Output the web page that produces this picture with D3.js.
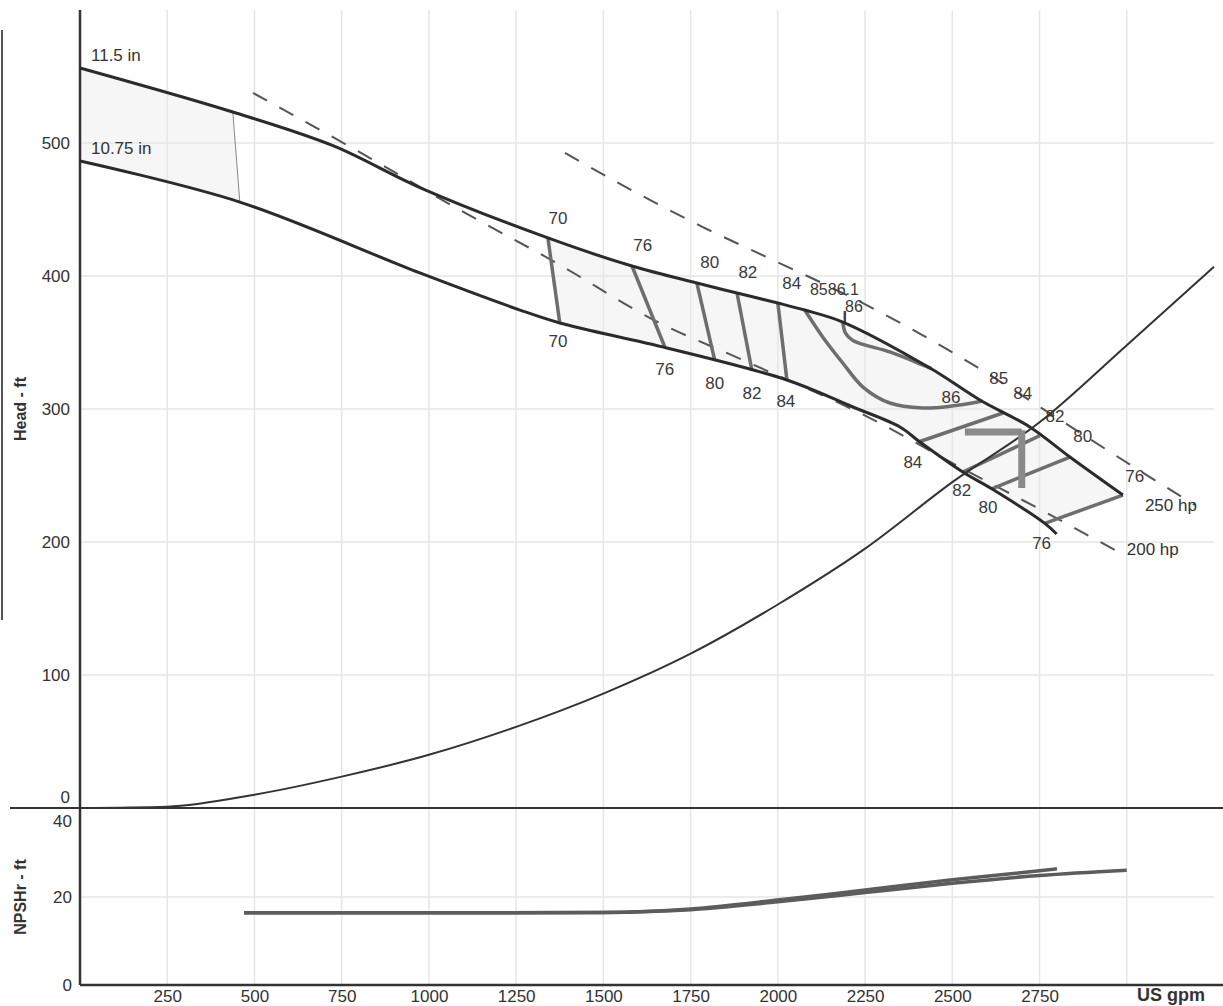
<!DOCTYPE html>
<html>
<head>
<meta charset="utf-8">
<script src="https://cdn.jsdelivr.net/npm/d3@7"></script>
<style>
body { margin: 0; background: #fff; }
text { font-family: "Liberation Sans", Arial, sans-serif; fill: #333; }
</style>
</head>
<body>
<script>
// impeller curves, flow in US gpm, head in ft
const flow115 = [0,438,725,974,1341,1582,1768,1883,2000,2077,2186,2436,2579,2722,2837,2989]
const head115 = [556.4,523.3,498,466.5,428.6,407.5,394.7,387.2,379.7,374.4,365.4,330.8,306.8,286.5,263.9,235.3]
const flow1075 = [0,458,974,1261,1375,1682,2026,2215,2350,2407,2530,2613,2765,2799]
const head1075 = [486.5,455.6,402.3,374.4,364.7,345.9,321.8,301.5,286.5,275.2,252.6,240,214,206]

// system curve
const sysFlow = [0,250,500,750,1000,1250,1500,1750,2000,2250,2500,2750,3000,3250]
const sysHead = [0,1,10,23.6,40,61,86,116,153,195,245,290,348,407]

// power lines (dashed)
const hp200 = [[496,537.6],[831,488.7],[1089,449.6],[1361,410.5],[1656,365.4],[1900,336.8],[2264,293.2],[2521,256.4],[2771,221.8],[2971,193.2]]
const hp250 = [[1390,492.5],[1585,463.9],[1785,436.8],[1986,412],[2186,387.2],[2378,360.9],[2570,331.6],[2765,299.2],[2966,265.4],[3195,227.8]]

// iso-efficiency lines
const effStraight = [
  [[1341,428.6],[1375,364.7]],
  [[1582,407.5],[1676,346.6]],
  [[1768,394.7],[1819,336.8]],
  [[1883,387.2],[1926,328.6]],
  [[2000,379.7],[2026,321.8]],
  [[2401,275],[2645,297]],
  [[2530,252.6],[2751,280]],
  [[2613,240],[2837,263.9]],
  [[2765,214],[2989,235.3]]
]
const eff85 = [[2077,374.4],[2129,354],[2186,334.6],[2244,316.5],[2321,304.5],[2415,300.8],[2493,302],[2587,306]]
const eff86 = [[2186,365.4],[2194,357],[2215,351.5],[2321,342.9],[2415,333.1],[2440,330.3]]
const minFlow = [[438,523.3],[458,455.6]]
const bepTick = [[2192,373.7],[2192,363.9]]
const dutyH = [[2536,282.7],[2699,282.7]]
const dutyV = [[2699,284],[2699,240.6]]

// label text, flow, head, anchor
const effLabels = [
  ['70',1370,443.6,'middle'],['76',1613,422.6,'middle'],['80',1805,409.8,'middle'],['82',1914,402.3,'middle'],['84',2040,394.7,'middle'],
  ['85',2143,389.5,'end'],['86.1',2143,389.5,'start'],['86',2218,377,'middle'],
  ['70',1370,350.4,'middle'],['76',1676,330,'middle'],['80',1819,319.5,'middle'],['82',1926,312,'middle'],['84',2023,306,'middle'],
  ['86',2496,308.3,'middle'],['85',2633,322.6,'middle'],['84',2702,311.3,'middle'],['82',2794,294.7,'middle'],['80',2874,279,'middle'],['76',3023,248.9,'middle'],
  ['84',2387,259.4,'middle'],['82',2527,239,'middle'],['80',2602,225.6,'middle'],['76',2756,199.2,'middle']
]
const curveLabels = [['11.5 in',31.5,566],['10.75 in',31.5,495.5],['250 hp',3052,227.8],['200 hp',3000,194]]

// NPSHr
const npshFlowA = [470,1000,1500,1750,2000,2250,2500,2800]
const npshA = [16.4,16.4,16.5,17.3,19.3,21.6,23.9,26.4]
const npshFlowB = [470,1000,1500,1750,2000,2250,2500,2750,3000]
const npshB = [16.4,16.4,16.5,17.1,18.9,21.0,23.1,24.9,26.1]

const xGrid = [250,500,750,1000,1250,1500,1750,2000,2250,2500,2750,3000]
const xLabels = [250,500,750,1000,1250,1500,1750,2000,2250,2500,2750]
const headTicks = [0,100,200,300,400,500]
const npshTicks = [0,20,40]

const W = 1223, H = 1006
const x = d3.scaleLinear().domain([0,3250]).range([80,1214])
const y = d3.scaleLinear().domain([0,600]).range([808,10])
const yn = d3.scaleLinear().domain([0,40]).range([985,809])

const svg = d3.select('body').append('svg')
  .attr('width', W).attr('height', H)

const zip = (a,b) => a.map((q,i)=>[q,b[i]])
const up = zip(flow115, head115)
const lo = zip(flow1075, head1075)

const line = d3.line().x(d=>x(d[0])).y(d=>y(d[1]))
const smooth = d3.line().x(d=>x(d[0])).y(d=>y(d[1])).curve(d3.curveMonotoneX)
const soft = d3.line().x(d=>x(d[0])).y(d=>y(d[1])).curve(d3.curveCatmullRom.alpha(0.5))
const poly = d3.line().x(d=>x(d[0])).y(d=>y(d[1])).curve(d3.curveLinearClosed)

// shaded bands between the impeller curves
const bandLeft = up.filter(d=>d[0]<=438).concat(lo.filter(d=>d[0]<=458).reverse())
const bandRight = up.filter(d=>d[0]>=1341).concat(lo.filter(d=>d[0]>=1375 && d[0]<=2765).reverse())
svg.selectAll('path.band')
  .data([bandLeft, bandRight])
  .enter().append('path')
  .attr('class','band')
  .attr('d', poly)
  .attr('fill', '#f6f6f6')

// grid
svg.selectAll('line.vgrid')
  .data(xGrid)
  .enter().append('line')
  .attr('x1', d=>x(d)).attr('x2', d=>x(d))
  .attr('y1', y(600)).attr('y2', yn(0))
  .attr('stroke', '#e6e6e6').attr('stroke-width', 1.5)
svg.selectAll('line.hgrid')
  .data(headTicks.slice(1))
  .enter().append('line')
  .attr('x1', x(0)).attr('x2', x(3250))
  .attr('y1', d=>y(d)).attr('y2', d=>y(d))
  .attr('stroke', '#e6e6e6').attr('stroke-width', 1.5)
svg.append('line')
  .attr('x1', x(0)).attr('x2', x(3250))
  .attr('y1', yn(20)).attr('y2', yn(20))
  .attr('stroke', '#e6e6e6').attr('stroke-width', 1.5)

// frame lines
svg.append('line').attr('x1', 2).attr('x2', 2).attr('y1', 30).attr('y2', 620)
  .attr('stroke', '#555').attr('stroke-width', 2)
svg.append('line').attr('x1', 10).attr('x2', W).attr('y1', y(0)).attr('y2', y(0))
  .attr('stroke', '#333').attr('stroke-width', 2)
svg.append('line').attr('x1', x(0)).attr('x2', W).attr('y1', yn(0)).attr('y2', yn(0))
  .attr('stroke', '#333').attr('stroke-width', 2.5)
svg.append('line').attr('x1', x(0)).attr('x2', x(0)).attr('y1', y(600)).attr('y2', yn(0))
  .attr('stroke', '#333').attr('stroke-width', 2.5)

// dashed power lines
svg.selectAll('path.hp')
  .data([hp200, hp250])
  .enter().append('path')
  .attr('d', smooth)
  .attr('fill', 'none')
  .attr('stroke', '#555').attr('stroke-width', 2)
  .attr('stroke-dasharray', '16 14')

// iso-efficiency lines
svg.selectAll('path.eff')
  .data(effStraight)
  .enter().append('path')
  .attr('d', line)
  .attr('fill', 'none')
  .attr('stroke', '#6e6e6e').attr('stroke-width', 3.5)
svg.selectAll('path.effc')
  .data([eff85, eff86])
  .enter().append('path')
  .attr('d', soft)
  .attr('fill', 'none')
  .attr('stroke', '#6e6e6e').attr('stroke-width', 3.5)
svg.append('path').attr('d', line(minFlow))
  .attr('fill', 'none').attr('stroke', '#888').attr('stroke-width', 1)
svg.append('path').attr('d', line(bepTick))
  .attr('fill', 'none').attr('stroke', '#444').attr('stroke-width', 2.5)

// impeller curves
svg.selectAll('path.imp')
  .data([up, lo])
  .enter().append('path')
  .attr('d', soft)
  .attr('fill', 'none')
  .attr('stroke', '#2b2b2b').attr('stroke-width', 3)

// system curve
svg.append('path').attr('d', smooth(zip(sysFlow, sysHead)))
  .attr('fill', 'none').attr('stroke', '#333').attr('stroke-width', 2)

// duty point marker
svg.selectAll('path.duty')
  .data([dutyH, dutyV])
  .enter().append('path')
  .attr('d', line)
  .attr('stroke', '#8a8a8a').attr('stroke-width', 7)

// NPSHr curves
const nline = d3.line().x(d=>x(d[0])).y(d=>yn(d[1])).curve(d3.curveMonotoneX)
svg.selectAll('path.npsh')
  .data([zip(npshFlowA, npshA), zip(npshFlowB, npshB)])
  .enter().append('path')
  .attr('d', nline)
  .attr('fill', 'none')
  .attr('stroke', '#5c5c5c').attr('stroke-width', 3.5)

// labels
svg.selectAll('text.eff')
  .data(effLabels)
  .enter().append('text')
  .attr('x', d=>x(d[1])).attr('y', d=>y(d[2]))
  .attr('text-anchor', d=>d[3]).attr('dominant-baseline', 'central')
  .attr('font-size', d=>d[1]>2100 && d[1]<2250 ? 16 : 17)
  .style('fill', '#3a3a3a')
  .text(d=>d[0])
svg.selectAll('text.curve')
  .data(curveLabels)
  .enter().append('text')
  .attr('x', d=>x(d[1])).attr('y', d=>y(d[2]))
  .attr('dominant-baseline', 'central')
  .attr('font-size', 17)
  .style('fill', '#333')
  .text(d=>d[0])

// axes
const fontAxis = g => g.attr('font-size', 17).attr('font-family', '"Liberation Sans", Arial, sans-serif')
const hAxis = svg.append('g')
  .attr('transform', `translate(${x(0)},0)`)
  .call(d3.axisLeft(y).tickValues(headTicks).tickSize(0).tickPadding(10))
  .call(fontAxis)
hAxis.select('.domain').remove()
hAxis.selectAll('text').filter(d=>d===0).attr('dy', '-0.3em')

const nAxis = svg.append('g')
  .attr('transform', `translate(${x(0)},0)`)
  .call(d3.axisLeft(yn).tickValues(npshTicks).tickSize(0).tickPadding(8))
  .call(fontAxis)
nAxis.select('.domain').remove()
nAxis.selectAll('text').filter(d=>d===40).attr('dy', '1.0em')

const xAxis = svg.append('g')
  .attr('transform', `translate(0,${yn(0)})`)
  .call(d3.axisBottom(x).tickValues(xLabels).tickSize(0).tickPadding(5).tickFormat(d3.format('d')))
  .call(fontAxis)
xAxis.select('.domain').remove()

svg.append('text')
  .attr('x', 1171).attr('y', 995)
  .attr('text-anchor', 'middle').attr('dominant-baseline', 'central')
  .attr('font-size', 18).attr('font-weight', 'bold')
  .text('US gpm')

svg.append('text')
  .attr('transform', `translate(20,${y(300)}) rotate(-90)`)
  .attr('text-anchor', 'middle').attr('dominant-baseline', 'central')
  .attr('font-size', 16).attr('font-weight', 'bold')
  .text('Head - ft')
svg.append('text')
  .attr('transform', `translate(20,${yn(20)}) rotate(-90)`)
  .attr('text-anchor', 'middle').attr('dominant-baseline', 'central')
  .attr('font-size', 16).attr('font-weight', 'bold')
  .text('NPSHr - ft')
</script>
</body>
</html>
